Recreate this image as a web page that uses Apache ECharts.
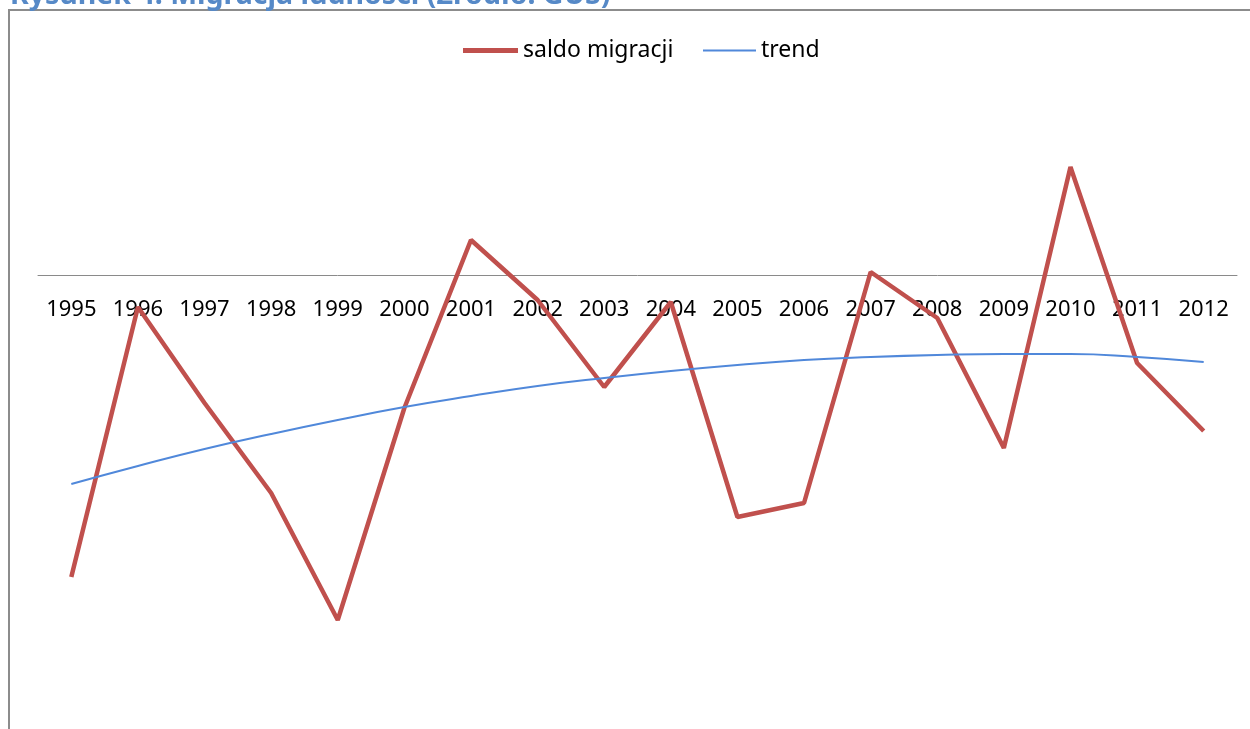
<!DOCTYPE html>
<html>
<head>
<meta charset="utf-8">
<script src="https://cdn.jsdelivr.net/npm/echarts@6/dist/echarts.min.js"></script>
<style>
  html, body { margin: 0; padding: 0; background: #fff; }
  #chart { width: 1250px; height: 729px; }
</style>
</head>
<body>
<div id="chart"></div>
<script>
// lata
const years = ['1995', '1996', '1997', '1998', '1999', '2000', '2001', '2002', '2003',
  '2004', '2005', '2006', '2007', '2008', '2009', '2010', '2011', '2012'];

// saldo migracji
const saldo = [-302, -32, -128, -218, -345, -133, 35, -25, -112,
  -27, -242, -228, 3, -43, -173, 108, -88, -156];

// linia trendu
const trend = [-209, -191, -174, -159, -145, -132, -121, -111, -103,
  -96, -90, -85, -82, -80, -79, -79, -82, -87];

const RED = '#C0504D';
const BLUE = '#5088DA';

const chart = echarts.init(document.getElementById('chart'));

// wspólne ustawienia legendy
const legendBase = {
  top: 39,
  padding: 0,
  itemGap: 0,
  icon: 'rect',
  textStyle: { fontSize: 23, color: '#000', fontFamily: 'Noto Sans' }
};

const option = {
  animation: false,
  textStyle: { fontFamily: 'Noto Sans' },
  title: {
    text: 'Rysunek 4. Migracja ludności (Źródło: GUS)',
    left: 5,
    top: -24,
    textStyle: { color: '#5689C7', fontSize: 28.5, fontWeight: 'bold', fontFamily: 'Noto Sans' }
  },
  graphic: [
    {
      type: 'rect',
      shape: { x: 9, y: 10, width: 1260, height: 740 },
      style: { fill: 'none', stroke: '#8c8c8c', lineWidth: 2 },
      silent: true
    }
  ],
  legend: [
    Object.assign({}, legendBase, {
      left: 463,
      itemWidth: 55,
      itemHeight: 5,
      data: [{ name: 'saldo migracji', itemStyle: { color: RED } }]
    }),
    Object.assign({}, legendBase, {
      left: 703,
      itemWidth: 53,
      itemHeight: 2,
      data: [{ name: 'trend', itemStyle: { color: BLUE } }]
    })
  ],
  grid: { left: 38, right: 13, top: 75, bottom: 54 },
  xAxis: {
    type: 'category',
    data: years,
    boundaryGap: true,
    offset: -400,
    axisLine: { onZero: false, lineStyle: { color: '#8a8a8a', width: 1 } },
    axisTick: { show: false },
    axisLabel: { color: '#000', fontSize: 22, margin: 24, interval: 0 }
  },
  yAxis: {
    type: 'value',
    min: -400,
    max: 200,
    show: false,
    splitLine: { show: false }
  },
  series: [
    {
      name: 'saldo migracji',
      type: 'line',
      data: saldo,
      showSymbol: false,
      symbol: 'none',
      lineStyle: { color: RED, width: 4.5 },
      itemStyle: { color: RED }
    },
    {
      name: 'trend',
      type: 'line',
      data: trend,
      smooth: true,
      showSymbol: false,
      symbol: 'none',
      lineStyle: { color: BLUE, width: 2 },
      itemStyle: { color: BLUE }
    }
  ]
};

chart.setOption(option);
</script>
</body>
</html>
